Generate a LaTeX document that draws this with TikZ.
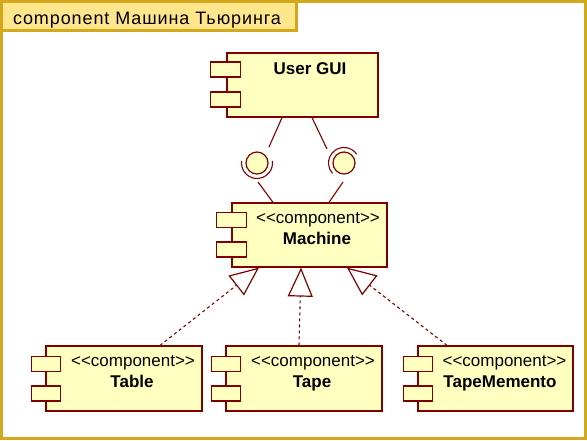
\documentclass[tikz,border=0pt]{standalone}
\usepackage{fontspec}
\newfontfamily\uifont{Liberation Sans}
\newfontfamily\titlefont{Liberation Sans}[LetterSpace=5]
\usetikzlibrary{arrows.meta,calc}
\definecolor{umlline}{RGB}{128,0,0}
\definecolor{umlfill}{RGB}{255,255,192}
\definecolor{framegold}{RGB}{212,168,28}
\definecolor{tabfill}{RGB}{255,230,140}
\begin{document}
\begin{tikzpicture}[x=1pt,y=-1pt,
  comp/.style={draw=umlline, fill=umlfill, line width=1.2pt, rectangle, inner sep=0pt},
  port/.style={draw=umlline, fill=umlfill, line width=1.2pt, rectangle, minimum width=29.5pt, minimum height=15pt, inner sep=0pt},
  stereo/.style={font=\uifont\fontsize{17}{20}\selectfont, inner sep=0pt, anchor=base},
  cname/.style={font=\uifont\bfseries\fontsize{17}{20}\selectfont, inner sep=0pt, anchor=base},
  iface/.style={circle, draw=umlline, fill=umlfill, line width=1.2pt, minimum size=22pt, inner sep=0pt},
  socket/.style={draw=umlline, line width=1.1pt},
  conn/.style={draw=umlline, line width=1.1pt},
  gen/.style={draw=umlline, line width=1.1pt, dash pattern=on 3pt off 3pt,
    -{Triangle[open, length=29pt, width=25pt, line width=1.2pt]}}
]
\fill[white] (0,0) rectangle (587,440);
\useasboundingbox (0,0) rectangle (587,440);
% frame
\draw[framegold, line width=3.2pt] (1.6,1.6) rectangle (585.4,438.4);
\draw[framegold, fill=tabfill, line width=3.2pt] (1.6,1.6) rectangle (296.5,30.5);
\node[font=\titlefont\fontsize{18}{20}\selectfont, anchor=base west, inner sep=0pt] (title) at (13,24) {component Машина Тьюринга};

% components
\node[comp, minimum width=151pt, minimum height=64pt] (gui) at (302.5,85) {};
\node[port] (guip1) at (225.5,69.5) {};
\node[port] (guip2) at (225.5,99.5) {};
\node[cname] (guit) at (310,74) {User GUI};

\node[comp, minimum width=155pt, minimum height=64pt] (machine) at (309.5,235) {};
\node[port] (machp1) at (231.5,220) {};
\node[port] (machp2) at (231.5,249.5) {};
\node[stereo] (machs) at (318,223) {<<component>>};
\node[cname] (macht) at (317,244) {Machine};

\node[comp, minimum width=156pt, minimum height=65pt] (table) at (124,378.5) {};
\node[port] (tabp1) at (46,364) {};
\node[port] (tabp2) at (46,393.5) {};
\node[stereo] (tabs) at (133,366.5) {<<component>>};
\node[cname] (tabt) at (132,387.5) {Table};

\node[comp, minimum width=156pt, minimum height=65pt] (tape) at (304,378.5) {};
\node[port] (tapep1) at (226,364) {};
\node[port] (tapep2) at (226,393.5) {};
\node[stereo] (tapes) at (313,366.5) {<<component>>};
\node[cname] (tapet) at (312,387.5) {Tape};

\node[comp, minimum width=155pt, minimum height=65pt] (tm) at (495.5,378.5) {};
\node[port] (tmp1) at (418,364) {};
\node[port] (tmp2) at (418,393.5) {};
\node[stereo] (tms) at (504.5,366.5) {<<component>>};
\node[cname] (tmt) at (500,387.5) {TapeMemento};

% interfaces
\node[iface] (i1) at (257,163) {};
\node[iface] (i2) at (344,163) {};
\draw[socket] ([shift={(172:15.5pt)}]i1.center) arc[start angle=172, end angle=368, radius=15.5pt];
\draw[socket] ([shift={(35:15.5pt)}]i2.center) arc[start angle=35, end angle=222, radius=15.5pt];

\draw[conn] ($(gui.south)+(-20.5,0)$) -- ($(i1)+(12,-16)$);
\draw[conn] ($(i1)+(1,19)$) -- ($(machine.north)+(-36.5,0)$);
\draw[conn] ($(gui.south)+(9.5,0)$) -- ($(i2)+(-17,-14)$);
\draw[conn] ($(i2)+(-1,19)$) -- ($(machine.north)+(19.5,0)$);

% generalizations
\draw[gen] ($(table.north)+(36,0)$) -- ($(machine.south)+(-50.5,0)$);
\draw[gen] ($(tape.north)+(-5,0)$) -- ($(machine.south)+(-8.5,0)$);
\draw[gen] ($(tm.north)+(-48.5,0)$) -- ($(machine.south)+(37.5,0)$);
\end{tikzpicture}
\end{document}
